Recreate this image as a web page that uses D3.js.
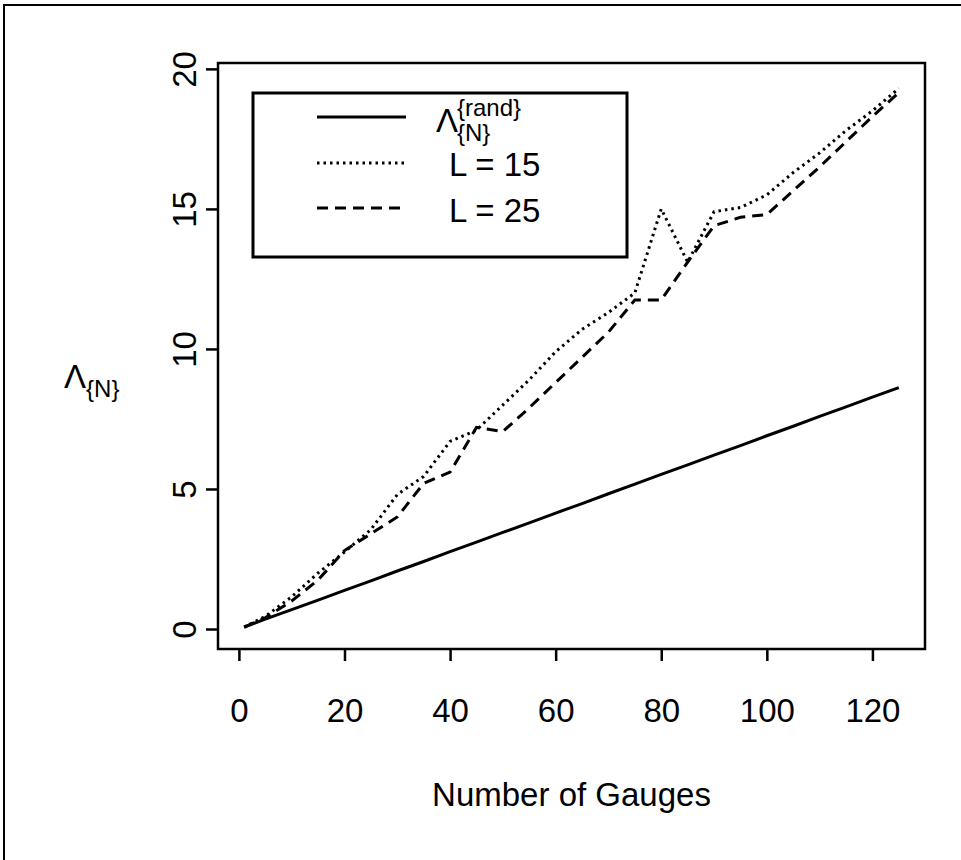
<!DOCTYPE html>
<html>
<head>
<meta charset="utf-8">
<script src="https://cdn.jsdelivr.net/npm/d3@7"></script>
<style>
  body { margin: 0; background: #fff; }
  svg { display: block; }
</style>
</head>
<body>
<div id="chart"></div>
<script>
// ===== Lambda vs number of gauges =====

// Data
const gauges = [1, 5, 10, 15, 20, 25, 30, 35, 40, 45, 50, 55, 60, 65, 70, 75, 80, 85, 90, 95, 100, 105, 110, 115, 120, 125];
const lambdaRand = [0.07, 0.35, 0.69, 1.03, 1.38, 1.72, 2.07, 2.41, 2.76, 3.10, 3.45, 3.79, 4.14, 4.48, 4.83, 5.17, 5.52, 5.86, 6.21, 6.55, 6.90, 7.24, 7.59, 7.93, 8.28, 8.62];
const lambdaL15 = [0.07, 0.45, 1.15, 2.0, 2.75, 3.55, 4.8, 5.45, 6.7, 7.1, 8.0, 8.9, 9.9, 10.7, 11.3, 12.0, 15.0, 13.1, 14.9, 15.05, 15.5, 16.3, 17.0, 17.8, 18.5, 19.3];
const lambdaL25 = [0.07, 0.4, 1.0, 1.75, 2.8, 3.4, 4.0, 5.2, 5.6, 7.2, 7.05, 7.9, 8.8, 9.7, 10.6, 11.75, 11.75, 13.1, 14.4, 14.7, 14.8, 15.65, 16.5, 17.4, 18.3, 19.15];

const xTicks = [0, 20, 40, 60, 80, 100, 120];
const yTicks = [0, 5, 10, 15, 20];

const font = "'Liberation Sans', Arial, Helvetica, sans-serif";
const fs = 33;

const W = 961, H = 860;
const box = { left: 218, right: 925, top: 63, bottom: 649 };

const svg = d3.select('#chart').append('svg')
  .attr('width', W)
  .attr('height', H);

// outer frame (only top and left edges show)
svg.append('path')
  .attr('d', `M4,${H} L4,5 L${W},5`)
  .attr('fill', 'none')
  .attr('stroke', '#000')
  .attr('stroke-width', 2);

const x = d3.scaleLinear().domain([-3.96, 129.96]).range([box.left, box.right]);
const y = d3.scaleLinear().domain([-0.714, 20.21]).range([box.bottom, box.top]);

// x axis
const xAxis = svg.append('g')
  .attr('transform', `translate(0, ${box.bottom})`)
  .call(d3.axisBottom(x).tickValues(xTicks).tickSize(12).tickFormat(d3.format('d')));
xAxis.select('.domain').remove();
xAxis.selectAll('line').attr('stroke-width', 2.5);
xAxis.selectAll('text')
  .attr('y', 73)
  .attr('dy', null)
  .style('font-size', fs + 'px')
  .style('font-family', font)
  .attr('fill', '#000');

// y axis, labels turned like R does
const yAxis = svg.append('g')
  .attr('transform', `translate(${box.left}, 0)`)
  .call(d3.axisLeft(y).tickValues(yTicks).tickSize(12));
yAxis.select('.domain').remove();
yAxis.selectAll('line').attr('stroke-width', 2.5);
yAxis.selectAll('text')
  .attr('x', null)
  .attr('dy', null)
  .attr('text-anchor', 'middle')
  .attr('transform', 'translate(-22, 0) rotate(-90)')
  .style('font-size', fs + 'px')
  .style('font-family', font)
  .attr('fill', '#000');

// plot box
svg.append('rect')
  .attr('x', box.left)
  .attr('y', box.top)
  .attr('width', box.right - box.left)
  .attr('height', box.bottom - box.top)
  .attr('fill', 'none')
  .attr('stroke', '#000')
  .attr('stroke-width', 2.5);

// series
const series = [
  { name: 'rand', values: lambdaRand, dash: null },
  { name: 'L15', values: lambdaL15, dash: '2.5,4' },
  { name: 'L25', values: lambdaL25, dash: '11,7' }
];

const line = d3.line()
  .x(d => x(d[0]))
  .y(d => y(d[1]));

series.forEach(s => {
  svg.append('path')
    .datum(gauges.map((g, i) => [g, s.values[i]]))
    .attr('d', line)
    .attr('fill', 'none')
    .attr('stroke', '#000')
    .attr('stroke-width', 3)
    .attr('stroke-dasharray', s.dash);
});

// axis titles
svg.append('text')
  .attr('x', (box.left + box.right) / 2)
  .attr('y', 806)
  .attr('text-anchor', 'middle')
  .style('font-size', fs + 'px')
  .style('font-family', font)
  .text('Number of Gauges');

const ylab = svg.append('text')
  .attr('x', 64)
  .attr('y', 388)
  .style('font-size', fs + 'px')
  .style('font-family', font);
ylab.append('tspan').text('Λ');
ylab.append('tspan')
  .attr('dy', 9)
  .style('font-size', '24px')
  .text('{N}');

// legend
const leg = svg.append('g');
leg.append('rect')
  .attr('x', 253)
  .attr('y', 93)
  .attr('width', 374)
  .attr('height', 164)
  .attr('fill', '#fff')
  .attr('stroke', '#000')
  .attr('stroke-width', 3);

const legRows = [117, 163, 208];
series.forEach((s, i) => {
  leg.append('line')
    .attr('x1', 317)
    .attr('x2', 406)
    .attr('y1', legRows[i])
    .attr('y2', legRows[i])
    .attr('stroke', '#000')
    .attr('stroke-width', 3)
    .attr('stroke-dasharray', s.dash);
});

// Λ^{rand}_{N}
leg.append('text')
  .attr('x', 436)
  .attr('y', 132)
  .style('font-size', fs + 'px')
  .style('font-family', font)
  .text('Λ');
leg.append('text')
  .attr('x', 457)
  .attr('y', 116)
  .style('font-size', '24px')
  .style('font-family', font)
  .text('{rand}');
leg.append('text')
  .attr('x', 457)
  .attr('y', 141)
  .style('font-size', '24px')
  .style('font-family', font)
  .text('{N}');

leg.append('text')
  .attr('x', 449)
  .attr('y', 176)
  .style('font-size', fs + 'px')
  .style('font-family', font)
  .text('L = 15');
leg.append('text')
  .attr('x', 449)
  .attr('y', 222)
  .style('font-size', fs + 'px')
  .style('font-family', font)
  .text('L = 25');
</script>
</body>
</html>
